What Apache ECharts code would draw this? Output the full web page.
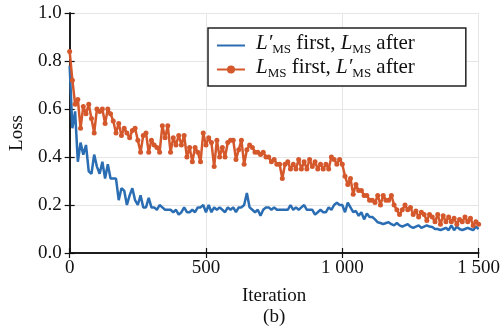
<!DOCTYPE html>
<html>
<head>
<meta charset="utf-8">
<script src="https://cdn.jsdelivr.net/npm/echarts@6/dist/echarts.min.js"></script>
<style>
  html, body { margin: 0; padding: 0; background: #fff; }
  #chart { width: 503px; height: 336px; }
</style>
</head>
<body>
<div id="chart"></div>
<script>
// iterations, sampled every 10
var iterations = [];
for (var k = 0; k <= 150; k++) { iterations.push(k * 10); }

// L'_MS first, L_MS after (blue)
var lossPrimeFirst = [
  0.78, 0.52, 0.59, 0.38, 0.46, 0.41, 0.45, 0.34, 0.33, 0.41,
  0.36, 0.33, 0.38, 0.31, 0.37, 0.31, 0.31, 0.31, 0.22, 0.27,
  0.26, 0.20, 0.24, 0.27, 0.22, 0.20, 0.24, 0.19, 0.19, 0.23,
  0.19, 0.19, 0.18, 0.20, 0.19, 0.18, 0.18, 0.18, 0.17, 0.18,
  0.16, 0.17, 0.19, 0.17, 0.17, 0.18, 0.17, 0.19, 0.19, 0.20,
  0.17, 0.20, 0.17, 0.19, 0.18, 0.19, 0.18, 0.17, 0.19, 0.18,
  0.19, 0.17, 0.19, 0.19, 0.20, 0.25, 0.19, 0.18, 0.17, 0.18,
  0.155, 0.18, 0.19, 0.19, 0.18, 0.19, 0.18, 0.18, 0.18, 0.18,
  0.18, 0.20, 0.18, 0.19, 0.18, 0.19, 0.20, 0.18, 0.18, 0.18,
  0.16, 0.17, 0.18, 0.17, 0.17, 0.19, 0.18, 0.20, 0.21, 0.20,
  0.20, 0.17, 0.21, 0.19, 0.17, 0.175, 0.155, 0.17, 0.14, 0.165,
  0.15, 0.15, 0.14, 0.128, 0.125, 0.12, 0.125, 0.128, 0.12, 0.115,
  0.125, 0.115, 0.11, 0.115, 0.12, 0.11, 0.105, 0.11, 0.115, 0.105,
  0.11, 0.115, 0.11, 0.108, 0.10, 0.10, 0.095, 0.10, 0.105, 0.095,
  0.115, 0.095, 0.11, 0.10, 0.095, 0.10, 0.105, 0.10, 0.095, 0.11,
  0.10
];

// L_MS first, L'_MS after (orange)
var lossPlainFirst = [
  0.84, 0.72, 0.62, 0.64, 0.52, 0.61, 0.58, 0.62, 0.56, 0.50,
  0.60, 0.59, 0.60, 0.54, 0.60, 0.58, 0.55, 0.50, 0.54, 0.49,
  0.52, 0.50, 0.48, 0.51, 0.52, 0.47, 0.42, 0.49, 0.50, 0.42,
  0.47, 0.45, 0.44, 0.42, 0.53, 0.48, 0.53, 0.42, 0.48, 0.45,
  0.49, 0.45, 0.49, 0.40, 0.44, 0.38, 0.44, 0.42, 0.38, 0.50,
  0.45, 0.48, 0.46, 0.36, 0.47, 0.40, 0.44, 0.40, 0.46, 0.47,
  0.47, 0.39, 0.43, 0.47, 0.37, 0.43, 0.45, 0.44, 0.42, 0.42,
  0.41, 0.42, 0.40, 0.40, 0.38, 0.39, 0.37, 0.37, 0.31, 0.37,
  0.38, 0.35, 0.37, 0.35, 0.39, 0.35, 0.38, 0.35, 0.39, 0.36,
  0.38, 0.35, 0.37, 0.35, 0.37, 0.35, 0.40, 0.39, 0.37, 0.39,
  0.37, 0.32, 0.285, 0.31, 0.245, 0.285, 0.26, 0.26, 0.24, 0.24,
  0.22, 0.22, 0.21, 0.24, 0.20, 0.24, 0.22, 0.22, 0.24, 0.20,
  0.18, 0.16, 0.18, 0.20, 0.18, 0.19, 0.16, 0.175, 0.15, 0.17,
  0.16, 0.135, 0.16, 0.15, 0.13, 0.16, 0.12, 0.155, 0.13, 0.15,
  0.13, 0.145, 0.12, 0.14, 0.13, 0.15, 0.13, 0.145, 0.115, 0.13,
  0.12
];

var xTicks = [0, 500, 1000, 1500];
var yTicks = [0.0, 0.2, 0.4, 0.6, 0.8, 1.0];

var nameA = 'L′MS first, LMS after';
var nameB = 'LMS first, L′MS after';

var FONT = 'Liberation Serif';
var BLUE = '#2a6db3';
var ORANGE = '#d4582b';

function pairs(ys) {
  return iterations.map(function (x, i) { return [x, ys[i]]; });
}

function fmtThousands(v) {
  var s = String(v);
  return s.length > 3 ? s.slice(0, s.length - 3) + ' ' + s.slice(-3) : s;
}

var chart = echarts.init(document.getElementById('chart'));

var frameLine = { show: true, lineStyle: { color: '#111', width: 1.5 } };
var inTick = { show: true, inside: true, length: 5, lineStyle: { color: '#111', width: 1.2 } };
var gridLine = { show: true, lineStyle: { color: '#e6e6e6', width: 1 } };

chart.setOption({
  animation: false,
  backgroundColor: '#fff',
  textStyle: { fontFamily: FONT },
  grid: { left: 66, right: 23, top: 13, bottom: 83 },
  legend: {
    orient: 'vertical',
    left: 208,
    top: 28,
    padding: [5, 51, 6, 8],
    itemGap: 1,
    itemWidth: 28,
    itemHeight: 10,
    backgroundColor: '#fff',
    borderColor: '#222',
    borderWidth: 1.5,
    borderRadius: 0,
    data: [
      { name: nameA, itemStyle: { color: 'rgba(0,0,0,0)', borderWidth: 0, opacity: 0 } },
      { name: nameB }
    ],
    formatter: function (n) {
      if (n === nameA) {
        return '{g|}{i|L′}{s|MS}{n| first, }{i|L}{s|MS}{n| after}';
      }
      return '{g|}{i|L}{s|MS}{n| first, }{i|L′}{s|MS}{n| after}';
    },
    textStyle: {
      fontFamily: FONT,
      color: '#111',
      rich: {
        g: { width: 6, lineHeight: 21 },
        i: { fontFamily: FONT, fontStyle: 'italic', fontSize: 21, color: '#111', verticalAlign: 'bottom', lineHeight: 21, padding: [0, 0, 2, 0] },
        n: { fontFamily: FONT, fontSize: 21, color: '#111', verticalAlign: 'bottom', lineHeight: 21, padding: [0, 0, 2, 0] },
        s: { fontFamily: FONT, fontSize: 13, color: '#111', verticalAlign: 'bottom', lineHeight: 21 }
      }
    }
  },
  xAxis: [{
    type: 'value',
    min: 0, max: 1500, interval: 500,
    name: 'Iteration\n(b)',
    nameLocation: 'middle',
    nameGap: 33,
    nameTextStyle: { fontFamily: FONT, fontSize: 19, color: '#111', lineHeight: 21 },
    axisLine: frameLine,
    axisTick: inTick,
    minorTick: { show: false },
    minorSplitLine: { show: false },
    splitLine: gridLine,
    axisLabel: {
      fontFamily: FONT, fontSize: 19, color: '#111', margin: 6,
      formatter: function (v) { return xTicks.indexOf(v) >= 0 ? fmtThousands(v) : ''; }
    }
  }, {
    type: 'value', position: 'top',
    min: 0, max: 1500, interval: 500,
    axisLine: frameLine, axisTick: inTick,
    axisLabel: { show: false }, splitLine: { show: false }
  }],
  yAxis: [{
    type: 'value',
    min: 0, max: 1, interval: 0.2,
    name: 'Loss',
    nameLocation: 'middle',
    nameGap: 42,
    nameRotate: 90,
    nameTextStyle: { fontFamily: FONT, fontSize: 19, color: '#111' },
    axisLine: frameLine,
    axisTick: inTick,
    minorTick: { show: false },
    minorSplitLine: { show: false },
    splitLine: gridLine,
    axisLabel: {
      fontFamily: FONT, fontSize: 19, color: '#111', margin: 8,
      formatter: function (v) { return v.toFixed(1); }
    }
  }, {
    type: 'value', position: 'right',
    min: 0, max: 1, interval: 0.2,
    axisLine: frameLine, axisTick: inTick,
    axisLabel: { show: false }, splitLine: { show: false }
  }],
  series: [{
    name: nameA,
    type: 'line',
    data: pairs(lossPrimeFirst),
    showSymbol: false,
    symbol: 'none',
    color: BLUE,
    lineStyle: { color: BLUE, width: 2.5 },
    z: 3
  }, {
    name: nameB,
    type: 'line',
    data: pairs(lossPlainFirst),
    symbol: 'circle',
    symbolSize: 5,
    showSymbol: true,
    color: ORANGE,
    itemStyle: { color: ORANGE },
    lineStyle: { color: ORANGE, width: 2.5 },
    z: 4
  }]
});
</script>
</body>
</html>
